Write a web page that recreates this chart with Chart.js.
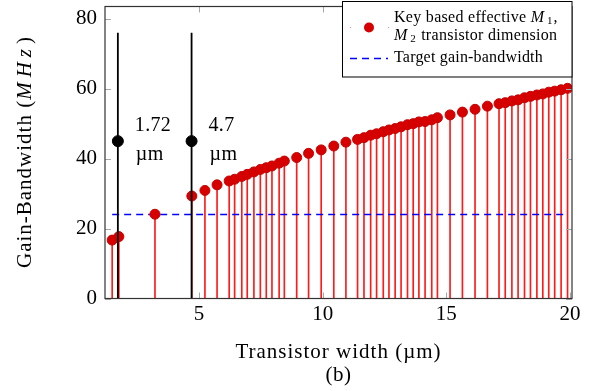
<!DOCTYPE html>
<html>
<head>
<meta charset="utf-8">
<script src="https://cdn.jsdelivr.net/npm/chart.js@4"></script>
<style>
  body { margin: 0; background: #fff; }
  #wrap { width: 589px; height: 391px; }
</style>
</head>
<body>
<div id="wrap"><canvas id="gbwChart"></canvas></div>
<script>
// données
const widths = [1.49, 1.76, 3.22, 4.71, 5.24, 5.73, 6.22, 6.44, 6.73, 6.95, 7.22, 7.48, 7.72, 7.95, 8.24, 8.45, 8.95, 9.43, 9.94, 10.45, 10.94, 11.41, 11.67, 11.94, 12.18, 12.45, 12.68, 12.93, 13.17, 13.43, 13.66, 13.89, 14.14, 14.41, 14.64, 15.15, 15.65, 16.16, 16.66, 17.13, 17.38, 17.65, 17.90, 18.16, 18.40, 18.66, 18.90, 19.14, 19.38, 19.64, 19.90];
const gainBw = [16.7, 17.7, 24.1, 29.3, 30.9, 32.5, 33.6, 34.1, 34.9, 35.5, 36.2, 36.9, 37.4, 37.9, 38.7, 39.3, 40.3, 41.5, 42.5, 43.6, 44.7, 45.5, 46.0, 46.7, 47.1, 47.7, 48.2, 48.6, 49.1, 49.7, 50.0, 50.5, 50.6, 51.1, 51.7, 52.5, 53.3, 54.1, 55.0, 55.7, 56.0, 56.5, 56.8, 57.4, 57.8, 58.2, 58.5, 59.0, 59.3, 59.7, 60.1];
const markerWidths = [1.72, 4.7];
const markerLabels = ["1.72", "4.7"];
const markerDotY = 45;
const markerTop = 76;
const targetGbw = 24;
const targetSpan = [1.49, 19.9];
const xTicks = [5, 10, 15, 20];
const yTicks = [0, 20, 40, 60, 80];

const SERIF = "'Liberation Serif', 'Times New Roman', serif";

// runs: [texte, style, taille, decalage vertical, espacement]
function setRun(ctx, r) {
	ctx.font = (r[1] || "") + " " + r[2] + "px " + SERIF;
	ctx.letterSpacing = (r[4] || 0) + "px";
}
function drawRuns(ctx, runs, x, y) {
	let cx = x;
	runs.forEach(r => {
		setRun(ctx, r);
		ctx.fillText(r[0], cx, y + (r[3] || 0));
		cx += ctx.measureText(r[0]).width;
	});
	ctx.letterSpacing = "0px";
	return cx - x;
}
function runsWidth(ctx, runs) {
	let w = 0;
	runs.forEach(r => {
		setRun(ctx, r);
		w += ctx.measureText(r[0]).width;
	});
	ctx.letterSpacing = "0px";
	return w;
}

const decorPlugin = {
	id: "decor",
	afterDatasetsDraw(chart) {
		const ctx = chart.ctx;
		const a = chart.chartArea;
		const xs = chart.scales.x, ys = chart.scales.y;
		ctx.save();

		// petits traits de graduation vers l'intérieur
		ctx.strokeStyle = "#a8a8a8";
		ctx.lineWidth = 1;
		ctx.beginPath();
		xTicks.forEach(v => {
			const px = Math.round(xs.getPixelForValue(v)) + 0.5;
			ctx.moveTo(px, a.bottom); ctx.lineTo(px, a.bottom - 6);
			ctx.moveTo(px, a.top); ctx.lineTo(px, a.top + 6);
		});
		yTicks.forEach(v => {
			const py = Math.round(ys.getPixelForValue(v)) + 0.5;
			ctx.moveTo(a.left, py); ctx.lineTo(a.left + 6, py);
			ctx.moveTo(a.right, py); ctx.lineTo(a.right - 6, py);
		});
		ctx.stroke();

		// cadre
		ctx.strokeStyle = "#333";
		ctx.lineWidth = 1.2;
		ctx.strokeRect(a.left, a.top, a.right - a.left, a.bottom - a.top);

		// étiquettes 1.72 / 4.7 µm
		ctx.fillStyle = "#000";
		ctx.textBaseline = "middle";
		ctx.textAlign = "left";
		markerWidths.forEach((w, i) => {
			const px = xs.getPixelForValue(w) + 17;
			const py = ys.getPixelForValue(markerDotY);
			drawRuns(ctx, [[markerLabels[i], "", 20, 0, 0.3]], px, py - 15);
			drawRuns(ctx, [["µm", "", 20, 0, 0.3]], px + 1, py + 14);
		});

		// titres des axes
		const yRuns = [["Gain-Bandwidth (", "", 21, 0, 1], ["MHz", "italic", 21, 0, 5], [")", "", 21, 0, 0]];
		ctx.save();
		ctx.translate(25, (a.top + a.bottom) / 2);
		ctx.rotate(-Math.PI / 2);
		drawRuns(ctx, yRuns, -runsWidth(ctx, yRuns) / 2, 0);
		ctx.restore();

		const cx = (a.left + a.right) / 2;
		const xRuns = [["Transistor width (µm)", "", 21, 0, 1]];
		drawRuns(ctx, xRuns, cx - runsWidth(ctx, xRuns) / 2, 352);
		const bRuns = [["(b)", "", 21, 0, 0.5]];
		drawRuns(ctx, bRuns, cx - runsWidth(ctx, bRuns) / 2, 375);

		// légende
		ctx.fillStyle = "#fff";
		ctx.fillRect(342.5, 1.5, 229.5, 75.5);
		ctx.strokeStyle = "#000";
		ctx.lineWidth = 1;
		ctx.strokeRect(342.5, 1.5, 229.5, 75.5);

		ctx.fillStyle = "rgba(255,0,0,0.45)";
		ctx.fillRect(350, 27, 1, 1);
		ctx.fillRect(388, 27, 1, 1);
		ctx.fillStyle = "rgb(215,0,0)";
		ctx.beginPath();
		ctx.arc(369, 27.5, 5, 0, Math.PI * 2);
		ctx.fill();

		ctx.strokeStyle = "rgb(0,0,255)";
		ctx.lineWidth = 1.6;
		ctx.setLineDash([7, 5]);
		ctx.beginPath();
		ctx.moveTo(350, 58.5); ctx.lineTo(388, 58.5);
		ctx.stroke();
		ctx.setLineDash([]);

		ctx.fillStyle = "#000";
		drawRuns(ctx, [["Key based effective ", "", 16, 0, 0.3], ["M", "italic", 16, 0, 3], ["1", "", 11, 3, 1], [",", "", 16, 0, 0]], 394, 18);
		drawRuns(ctx, [["M", "italic", 16, 0, 3], ["2", "", 11, 3, 1], [" transistor dimension", "", 16, 0, 0.3]], 394, 36);
		drawRuns(ctx, [["Target gain-bandwidth", "", 16, 0, 0.2]], 394, 58);

		ctx.restore();
	}
};

const ctx = document.getElementById("gbwChart").getContext("2d");

const datasets = [
	{
		type: "bar",
		data: widths.map((w, i) => ({ x: w, y: gainBw[i] })),
		backgroundColor: "rgba(255,0,0,0.9)",
		barThickness: 1,
		order: 6,
	},
	{
		type: "line",
		data: [{ x: targetSpan[0], y: targetGbw }, { x: targetSpan[1], y: targetGbw }],
		borderColor: "rgb(0,0,255)",
		borderWidth: 1.6,
		borderDash: [7, 5],
		pointRadius: 0,
		order: 5,
	},
	{
		type: "scatter",
		data: widths.map((w, i) => ({ x: w, y: gainBw[i] })),
		backgroundColor: "rgb(215,0,0)",
		borderColor: "rgb(200,0,0)",
		borderWidth: 1,
		pointRadius: 5,
		order: 4,
	},
];
markerWidths.forEach(w => {
	datasets.push({
		type: "line",
		data: [{ x: w, y: 0 }, { x: w, y: markerTop }],
		borderColor: "#000",
		borderWidth: 1.8,
		pointRadius: 0,
		order: 3,
	});
});
datasets.push({
	type: "scatter",
	data: markerWidths.map(w => ({ x: w, y: markerDotY })),
	backgroundColor: "#000",
	borderColor: "#000",
	pointRadius: 5.5,
	order: 1,
});

new Chart(ctx, {
	type: "scatter",
	data: { datasets: datasets },
	options: {
		responsive: true,
		maintainAspectRatio: false,
		animation: false,
		events: [],
		layout: { padding: { left: 0, right: 17, top: 2, bottom: 0 } },
		plugins: {
			legend: { display: false },
			tooltip: { enabled: false },
		},
		scales: {
			x: {
				type: "linear",
				min: 1.2,
				max: 20.08,
				offset: false,
				grid: { display: false, drawTicks: false },
				border: { display: false },
				afterBuildTicks: s => { s.ticks = xTicks.map(v => ({ value: v })); },
				afterFit: s => { s.height = 92.5; s.paddingLeft = 0; s.paddingRight = 0; },
				ticks: {
					font: { family: SERIF, size: 21 },
					color: "#000",
					padding: 3,
					maxRotation: 0,
					autoSkip: false,
				},
			},
			y: {
				min: 0,
				max: 83.5,
				grid: { display: false, drawTicks: false },
				border: { display: false },
				afterBuildTicks: s => { s.ticks = yTicks.map(v => ({ value: v })); },
				afterFit: s => { s.width = 105; s.paddingTop = 0; s.paddingBottom = 0; },
				ticks: {
					font: { family: SERIF, size: 21 },
					color: "#000",
					padding: 8,
					autoSkip: false,
				},
			},
		},
	},
	plugins: [decorPlugin],
});
</script>
</body>
</html>
